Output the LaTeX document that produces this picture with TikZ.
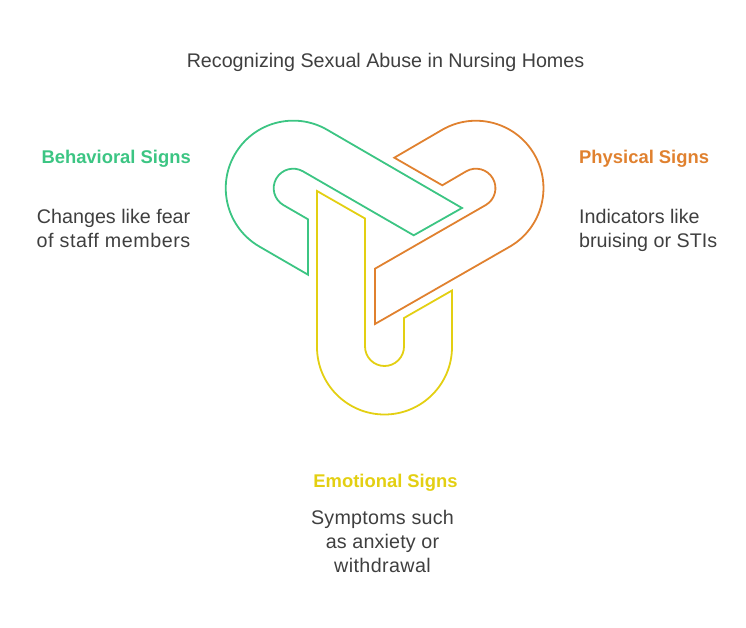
\documentclass[tikz,border=0pt]{standalone}
\usepackage{fontspec}
\setmainfont{Liberation Sans}
\definecolor{gsign}{HTML}{3CC583}
\definecolor{osign}{HTML}{E0812F}
\definecolor{ysign}{HTML}{E3CF12}
\definecolor{txt}{HTML}{3F3F3F}
\tikzset{
  ring/.style={line width=1.8pt,line join=miter,fill=none},
  body/.style={text=txt,font=\fontsize{19.7}{24}\selectfont,inner sep=0pt},
  head/.style={font=\fontsize{18.4}{24}\selectfont\bfseries,inner sep=0pt}
}
\begin{document}
\begin{tikzpicture}[x=1pt,y=1pt]
\useasboundingbox (0,0) rectangle (746,627);
% green
\draw[ring,gsign] (308,352.3) -- (308,407.7) -- (283.45,421.9)
  arc[start angle=240,end angle=60,radius=19.5] -- (413.7,391.7) -- (462,419) -- (327,497.3)
  arc[start angle=60,end angle=240,radius=67.5] -- cycle;
% orange
\draw[ring,osign] (394.3,469.3) -- (442.3,441.7) -- (466.2,455.7)
  arc[start angle=120,end angle=-60,radius=19.5] -- (375,358.3) -- (375,303) -- (509.7,380.3)
  arc[start angle=-60,end angle=120,radius=67.5] -- cycle;
% yellow
\draw[ring,ysign] (317,436) -- (365,408.5) -- (365,280.5)
  arc[start angle=180,end angle=360,radius=19.5] -- (404,309) -- (452,336.5) -- (452,280)
  arc[start angle=0,end angle=-180,radius=67.5] -- cycle;
\node[body,anchor=base] (title) at (385.5,559) {Recognizing Sexual Abuse in Nursing Homes};
\node[head,text=gsign,anchor=base east] (bh) at (191,463) {Behavioral Signs};
\node[body,anchor=base east] (bb1) at (190.5,403) {Changes like fear};
\node[body,anchor=base east] (bb2) at (190.5,379) {\addfontfeature{LetterSpace=2.85}of staff members};
\node[head,text=osign,anchor=base west] (ph) at (579,463) {Physical Signs};
\node[body,anchor=base west] (pb1) at (579,403) {Indicators like};
\node[body,anchor=base west] (pb2) at (579,379) {bruising or STIs};
\node[head,text=ysign,anchor=base] (eh) at (385.5,140) {Emotional Signs};
\node[body,anchor=base] (eb1) at (382.5,103) {\addfontfeature{LetterSpace=1.2}Symptoms such};
\node[body,anchor=base] (eb2) at (382.5,79) {\addfontfeature{LetterSpace=0.8}as anxiety or};
\node[body,anchor=base] (eb3) at (382.5,55) {\addfontfeature{LetterSpace=2}withdrawal};
\end{tikzpicture}
\end{document}
